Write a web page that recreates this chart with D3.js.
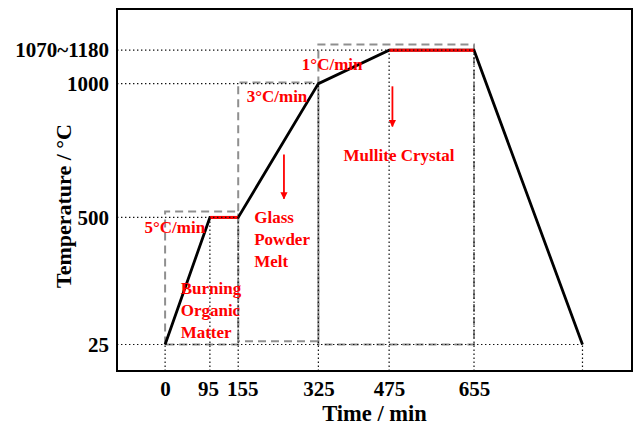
<!DOCTYPE html>
<html>
<head>
<meta charset="utf-8">
<script src="https://cdn.jsdelivr.net/npm/d3@7"></script>
<style>
  html, body { margin: 0; padding: 0; background: #fff; }
  svg { display: block; }
  text { font-family: "Liberation Serif", "Times New Roman", serif; font-weight: bold; }
</style>
</head>
<body>
<svg id="chart" width="633" height="425"></svg>
<script>
// Firing schedule: time (min) vs. temperature (°C)
const times = [0, 95, 155, 325, 475, 655, 885];
const temps = [25, 500, 500, 1000, 1125, 1125, 25];

// Isothermal holds drawn in red: [start, end, temperature]
const holdStart = [95, 475];
const holdEnd = [155, 655];
const holdTemp = [500, 1125];

// Axis ticks
const xTickValues = [0, 95, 155, 325, 475, 655];
const xTickLabels = ["0", "95", "155", "325", "475", "655"];
const xTickShift = [0, -2, 4, 0, 0, 0]; // keeps "95" and "155" apart
const yTickValues = [25, 500, 1000, 1125];
const yTickLabels = ["25", "500", "1000", "1070~1180"];

// Guide lines: horizontal guide for each level runs to this time
const guideLevel = [25, 500, 1000, 1125];
const guideUntil = [885, 155, 325, 655];

// Stage boxes (dashed): time span and temperature span
const boxT0 = [0, 155, 325];
const boxT1 = [155, 325, 655];
const boxLo = [25, 37, 25];
const boxHi = [522, 1004, 1146];

// Heating-rate labels
const rateText = ["5°C/min", "3°C/min", "1°C/min"];
const rateT = [85, 173, 290];
const rateTemp = [440, 930, 1050];
const rateAnchor = ["end", "start", "start"];

// Stage labels
const stageLines = [["Burning", "Organic", "Matter"], ["Glass", "Powder", "Melt"], ["Mullite Crystal"]];
const stageT = [33, 189, 496];
const stageTemp = [213, 478, 712];
const stageAnchor = ["start", "start", "middle"];

// Red arrows: time, start temperature, end temperature
const arrowT = [252, 482];
const arrowFrom = [735, 990];
const arrowTo = [570, 840];

const svg = d3.select("#chart");
const plot = { left: 117, right: 632, top: 9, bottom: 371 };

const x = d3.scaleLinear().domain([-102, 990]).range([plot.left, plot.right]);
const y = d3.scaleLinear().domain([-74, 1279]).range([plot.bottom, plot.top]);

const red = "#ff0000";

// Arrow marker
svg.append("defs").append("marker")
  .attr("id", "arrowhead")
  .attr("viewBox", "0 0 10 10")
  .attr("refX", 9).attr("refY", 5)
  .attr("markerWidth", 4).attr("markerHeight", 4.5)
  .attr("markerUnits", "strokeWidth")
  .attr("orient", "auto")
  .append("path").attr("d", "M0,0 L10,5 L0,10 Z").attr("fill", red);

// Stage boxes
const boxes = boxT0.map((t0, i) => ({ t0, t1: boxT1[i], lo: boxLo[i], hi: boxHi[i] }));
svg.append("g").selectAll("path").data(boxes).join("path")
  .attr("d", b => {
    const p = d3.path();
    p.moveTo(x(b.t0), y(b.lo));
    p.lineTo(x(b.t0), y(b.hi));
    p.lineTo(x(b.t1), y(b.hi));
    p.lineTo(x(b.t1), y(b.lo));
    p.closePath();
    return p.toString();
  })
  .attr("fill", "none")
  .attr("stroke", "#8f8f8f")
  .attr("stroke-width", 2)
  .attr("stroke-dasharray", "8,5");

// Profile line
const line = d3.line().x(d => x(d[0])).y(d => y(d[1]));
const profile = times.map((t, i) => [t, temps[i]]);
svg.append("path")
  .datum(profile)
  .attr("d", line)
  .attr("fill", "none")
  .attr("stroke", "#000")
  .attr("stroke-width", 2.8)
  .attr("stroke-linejoin", "miter");

// Holds in red
const holds = holdStart.map((s, i) => [[s, holdTemp[i]], [holdEnd[i], holdTemp[i]]]);
svg.append("g").selectAll("path").data(holds).join("path")
  .attr("d", line)
  .attr("fill", "none")
  .attr("stroke", red)
  .attr("stroke-width", 3);

// Dotted guides
const guides = svg.append("g")
  .attr("stroke", "#111")
  .attr("stroke-width", 1.2)
  .attr("stroke-dasharray", "1.4,2.6")
  .attr("fill", "none");
guideLevel.forEach((v, i) => {
  guides.append("line")
    .attr("x1", x.range()[0]).attr("x2", x(guideUntil[i]))
    .attr("y1", y(v)).attr("y2", y(v));
});
times.forEach((t, i) => {
  guides.append("line")
    .attr("x1", x(t)).attr("x2", x(t))
    .attr("y1", y.range()[0]).attr("y2", y(temps[i]));
});

// Frame
svg.append("rect")
  .attr("x", plot.left).attr("y", plot.top)
  .attr("width", plot.right - plot.left).attr("height", plot.bottom - plot.top)
  .attr("fill", "none").attr("stroke", "#000").attr("stroke-width", 2);

// Axes
const xAxis = svg.append("g")
  .attr("transform", `translate(0,${plot.bottom})`)
  .call(d3.axisBottom(x).tickValues(xTickValues)
    .tickFormat((d, i) => xTickLabels[i]).tickSize(0).tickPadding(10));
xAxis.select(".domain").remove();
xAxis.selectAll("text").attr("font-size", 21).attr("fill", "#000")
  .attr("dx", (d, i) => xTickShift[i])
  .style("font-family", "Liberation Serif").style("font-weight", "bold");

const yAxis = svg.append("g")
  .attr("transform", `translate(${plot.left},0)`)
  .call(d3.axisLeft(y).tickValues(yTickValues)
    .tickFormat((d, i) => yTickLabels[i]).tickSize(0).tickPadding(8));
yAxis.select(".domain").remove();
yAxis.selectAll("text").attr("font-size", 21).attr("fill", "#000")
  .style("font-family", "Liberation Serif").style("font-weight", "bold");

// Axis titles
svg.append("text")
  .attr("x", (plot.left + plot.right) / 2).attr("y", 421)
  .attr("text-anchor", "middle").attr("font-size", 22.5).attr("fill", "#000")
  .text("Time / min");
svg.append("text")
  .attr("transform", `translate(71,206) rotate(-90)`)
  .attr("text-anchor", "middle").attr("font-size", 22).attr("fill", "#000")
  .text("Temperature / °C");

// Rate labels
svg.append("g").selectAll("text").data(rateText).join("text")
  .attr("x", (d, i) => x(rateT[i])).attr("y", (d, i) => y(rateTemp[i]))
  .attr("text-anchor", (d, i) => rateAnchor[i])
  .attr("font-size", 17).attr("fill", red)
  .text(d => d);

// Stage labels
svg.append("g").selectAll("text").data(stageLines).join("text")
  .attr("x", (d, i) => x(stageT[i])).attr("y", (d, i) => y(stageTemp[i]))
  .attr("text-anchor", (d, i) => stageAnchor[i])
  .attr("font-size", 17).attr("fill", red)
  .each(function (lines, i) {
    d3.select(this).selectAll("tspan").data(lines).join("tspan")
      .attr("x", x(stageT[i]))
      .attr("dy", (l, j) => j === 0 ? 0 : 22)
      .text(l => l);
  });

// Arrows
svg.append("g").selectAll("line").data(arrowT).join("line")
  .attr("x1", d => x(d)).attr("x2", d => x(d))
  .attr("y1", (d, i) => y(arrowFrom[i])).attr("y2", (d, i) => y(arrowTo[i]))
  .attr("stroke", red).attr("stroke-width", 1.8)
  .attr("marker-end", "url(#arrowhead)");
</script>
</body>
</html>
